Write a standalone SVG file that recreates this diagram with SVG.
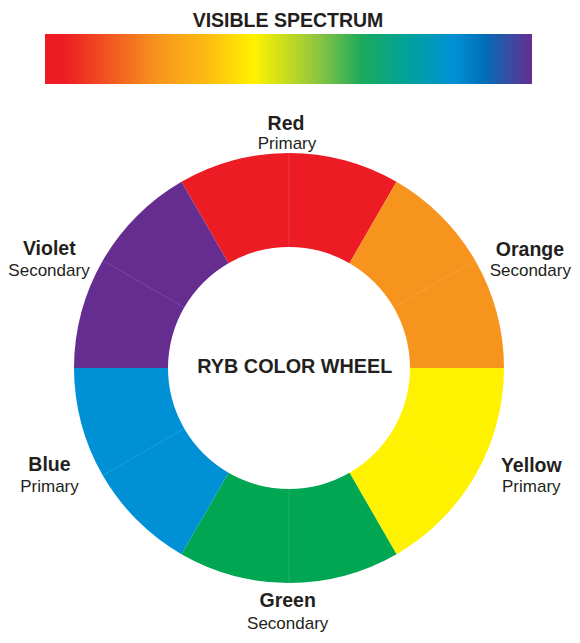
<svg xmlns="http://www.w3.org/2000/svg" width="580" height="643" viewBox="0 0 580 643">
  <defs>
    <linearGradient id="spectrum" x1="0" y1="0" x2="1" y2="0">
      <stop offset="0" stop-color="#ED1C24"/>
      <stop offset="0.04" stop-color="#ED1C24"/>
      <stop offset="0.23" stop-color="#F7941D"/>
      <stop offset="0.33" stop-color="#FDB913"/>
      <stop offset="0.43" stop-color="#FFF200"/>
      <stop offset="0.56" stop-color="#8DC63F"/>
      <stop offset="0.65" stop-color="#1BAA5C"/>
      <stop offset="0.75" stop-color="#00A19E"/>
      <stop offset="0.84" stop-color="#0090D6"/>
      <stop offset="0.90" stop-color="#0070B8"/>
      <stop offset="1" stop-color="#662D91"/>
    </linearGradient>
    <style>
      .bold { font-family: "Liberation Sans", Arial, sans-serif; font-weight: bold; font-size: 19.5px; fill: #231F20; text-anchor: middle; }
      .sub { font-family: "Liberation Sans", Arial, sans-serif; font-size: 17px; fill: #231F20; text-anchor: middle; }
      .split { stroke: #FFFFFF; stroke-opacity: 0.12; stroke-width: 1; fill: none; }
    </style>
  </defs>
  <rect width="580" height="643" fill="#FFFFFF"/>

  <g id="spectrum-title">
    <text class="bold" x="288" y="26.5">VISIBLE SPECTRUM</text>
  </g>
  <g id="spectrum-bar">
    <rect x="45" y="34" width="487" height="50" fill="url(#spectrum)"/>
  </g>

  <g id="wheel">
    <g id="seg-red">
      <path d="M396.5,181.81 A215,215 0 0 0 181.5,181.81 L228.5,263.21 A121,121 0 0 1 349.5,263.21 Z" fill="#ED1C24"/>
      <line class="split" x1="289" y1="153" x2="289" y2="247"/>
    </g>
    <g id="seg-orange">
      <path d="M504,368 A215,215 0 0 0 396.5,181.81 L349.5,263.21 A121,121 0 0 1 410,368 Z" fill="#F7941D"/>
      <line class="split" x1="475.19" y1="260.5" x2="393.79" y2="307.5"/>
    </g>
    <g id="seg-yellow">
      <path d="M396.5,554.19 A215,215 0 0 0 504,368 L410,368 A121,121 0 0 1 349.5,472.79 Z" fill="#FFF200"/>
      <line class="split" x1="475.19" y1="475.5" x2="393.79" y2="428.5"/>
    </g>
    <g id="seg-green">
      <path d="M181.5,554.19 A215,215 0 0 0 396.5,554.19 L349.5,472.79 A121,121 0 0 1 228.5,472.79 Z" fill="#00A651"/>
      <line class="split" x1="289" y1="583" x2="289" y2="489"/>
    </g>
    <g id="seg-blue">
      <path d="M74,368 A215,215 0 0 0 181.5,554.19 L228.5,472.79 A121,121 0 0 1 168,368 Z" fill="#0090D6"/>
      <line class="split" x1="102.81" y1="475.5" x2="184.21" y2="428.5"/>
    </g>
    <g id="seg-violet">
      <path d="M181.5,181.81 A215,215 0 0 0 74,368 L168,368 A121,121 0 0 1 228.5,263.21 Z" fill="#662D91"/>
      <line class="split" x1="102.81" y1="260.5" x2="184.21" y2="307.5"/>
    </g>
  </g>

  <g id="center-label">
    <text class="bold" x="294.8" y="373.3" textLength="195" lengthAdjust="spacingAndGlyphs">RYB COLOR WHEEL</text>
  </g>

  <g id="label-red">
    <text class="bold" x="286" y="130">Red</text>
    <text class="sub" x="287" y="148.5">Primary</text>
  </g>
  <g id="label-orange">
    <text class="bold" x="530" y="255.7">Orange</text>
    <text class="sub" x="530.3" y="275.7">Secondary</text>
  </g>
  <g id="label-yellow">
    <text class="bold" x="531.3" y="471.7">Yellow</text>
    <text class="sub" x="531.3" y="491.7">Primary</text>
  </g>
  <g id="label-green">
    <text class="bold" x="287.7" y="607.3">Green</text>
    <text class="sub" x="287.7" y="629.3">Secondary</text>
  </g>
  <g id="label-blue">
    <text class="bold" x="49.5" y="470.7">Blue</text>
    <text class="sub" x="49.5" y="491.7">Primary</text>
  </g>
  <g id="label-violet">
    <text class="bold" x="49.3" y="255">Violet</text>
    <text class="sub" x="49" y="275.5">Secondary</text>
  </g>
</svg>
